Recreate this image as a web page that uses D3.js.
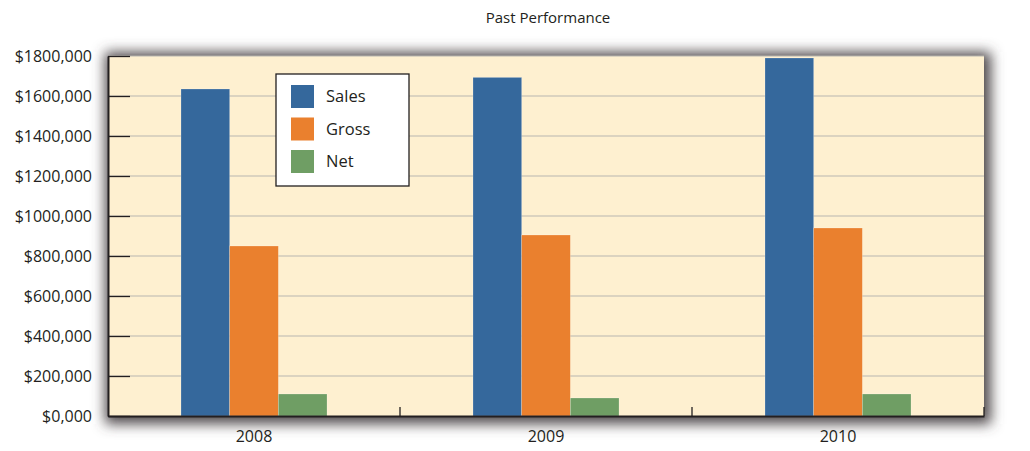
<!DOCTYPE html>
<html>
<head>
<meta charset="utf-8">
<script src="https://cdn.jsdelivr.net/npm/d3@7"></script>
<style>
  body { margin: 0; background: #fff; }
  svg { display: block; font-family: "Open Sans", "DejaVu Sans", sans-serif; }
</style>
</head>
<body>
<div id="container"></div>
<script>
const years = ["2008", "2009", "2010"];
const seriesNames = ["Sales", "Gross", "Net"];
const sales = [1635000, 1693000, 1790000];
const gross = [850000, 905000, 940000];
const net = [110000, 90000, 110000];
const yTicks = [0, 200000, 400000, 600000, 800000, 1000000, 1200000, 1400000, 1600000, 1800000];

const seriesColors = ["#35689c", "#ea802e", "#6f9e64"];
const seriesValues = [sales, gross, net];

const margin = { top: 56, right: 46, bottom: 35, left: 108 };
const width = 1030, height = 451;
const w = width - margin.left - margin.right;
const h = height - margin.top - margin.bottom;

const svg = d3.select("#container").append("svg")
  .attr("width", width)
  .attr("height", height);

// blurred shadow round the plot area
const defs = svg.append("defs");
defs.append("filter")
    .attr("id", "shadow")
    .attr("x", "-10%").attr("y", "-20%")
    .attr("width", "120%").attr("height", "140%")
  .append("feGaussianBlur")
    .attr("stdDeviation", 6.5);

svg.append("text")
  .attr("x", 548)
  .attr("y", 23)
  .attr("text-anchor", "middle")
  .attr("font-size", 15)
  .attr("fill", "#231f20")
  .text("Past Performance");

const g = svg.append("g").attr("transform", `translate(${margin.left},${margin.top})`);

g.append("rect")
  .attr("x", -3).attr("y", -4)
  .attr("width", w + 10).attr("height", h + 12)
  .attr("fill", "#4f4a4b")
  .attr("filter", "url(#shadow)");

g.append("rect")
  .attr("width", w).attr("height", h)
  .attr("fill", "#fef0d0");

const x = d3.scaleBand().domain(years).range([0, w]);
const xInner = d3.scaleBand().domain(seriesNames)
  .range([x.bandwidth() / 4, x.bandwidth() * 3 / 4]);
const y = d3.scaleLinear().domain([0, 1800000]).range([h, 0]);

// grid lines
g.selectAll(".grid").data(yTicks.slice(1)).enter().append("line")
  .attr("class", "grid")
  .attr("x1", 0).attr("x2", w)
  .attr("y1", d => y(d)).attr("y2", d => y(d))
  .attr("stroke", "#b8b6b0")
  .attr("stroke-width", 1.2);

// bars
const groups = g.selectAll(".year").data(years).enter().append("g")
  .attr("class", "year")
  .attr("transform", d => `translate(${x(d)},0)`);

groups.selectAll("rect").data((d, i) => seriesNames.map((s, j) => ({ s: s, v: seriesValues[j][i], c: seriesColors[j] })))
  .enter().append("rect")
  .attr("x", d => xInner(d.s))
  .attr("width", xInner.bandwidth())
  .attr("y", d => y(d.v))
  .attr("height", d => h - y(d.v))
  .attr("fill", d => d.c)
  .attr("stroke", "rgba(255,255,255,0.35)")
  .attr("stroke-width", 0.6);

// y axis
const yAxis = d3.axisLeft(y)
  .tickValues(yTicks)
  .tickSizeInner(-22)
  .tickSizeOuter(0)
  .tickPadding(16)
  .tickFormat(d => "$" + Math.round(d / 1000) + ",000");

const ya = g.append("g").call(yAxis);
ya.select(".domain").attr("stroke", "#231f20").attr("stroke-width", 2);
ya.selectAll(".tick line").attr("stroke", "#231f20").attr("stroke-width", 1.3);
ya.selectAll(".tick text")
  .attr("font-size", 16)
  .attr("fill", "#231f20")
  .style("font-family", "'Open Sans', sans-serif");

// x axis
const xAxis = d3.axisBottom(x).tickSize(0).tickPadding(15);
const xa = g.append("g").attr("transform", `translate(0,${h})`).call(xAxis);
xa.select(".domain").attr("stroke", "#231f20").attr("stroke-width", 2);
xa.selectAll(".tick text")
  .attr("font-size", 16)
  .attr("fill", "#231f20")
  .style("font-family", "'Open Sans', sans-serif");

// x ticks at band edges
xa.selectAll(".edge").data(years).enter().append("line")
  .attr("class", "edge")
  .attr("x1", d => x(d) + x.bandwidth()).attr("x2", d => x(d) + x.bandwidth())
  .attr("y1", 0).attr("y2", -9)
  .attr("stroke", "#231f20")
  .attr("stroke-width", 1.3);

// legend
const legend = svg.append("g").attr("transform", "translate(276,74)");
legend.append("rect")
  .attr("width", 133).attr("height", 112)
  .attr("fill", "#fff")
  .attr("stroke", "#231f20")
  .attr("stroke-width", 1.3);

const items = legend.selectAll(".item").data(seriesNames).enter().append("g")
  .attr("class", "item")
  .attr("transform", (d, i) => `translate(15,${11 + i * 32.5})`);

items.append("rect")
  .attr("width", 23).attr("height", 23)
  .attr("fill", (d, i) => seriesColors[i]);

items.append("text")
  .attr("x", 35).attr("y", 17)
  .attr("font-size", 16.5)
  .attr("fill", "#231f20")
  .text(d => d);
</script>
</body>
</html>
